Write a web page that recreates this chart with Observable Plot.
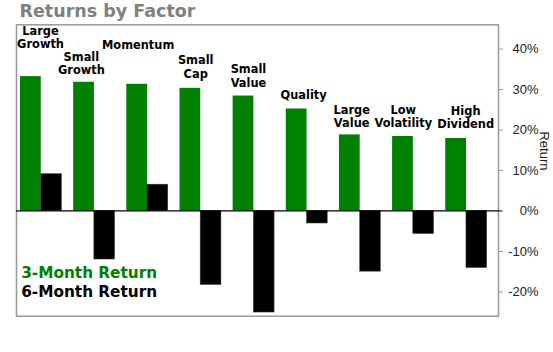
<!DOCTYPE html>
<html>
<head>
<meta charset="utf-8">
<script src="https://cdn.jsdelivr.net/npm/d3@7"></script>
<script src="https://cdn.jsdelivr.net/npm/@observablehq/plot@0.6"></script>
<style>
  html, body { margin: 0; padding: 0; background: #fff; }
  #chart { width: 553px; height: 352px; }
</style>
</head>
<body>
<div id="chart"></div>
<script>
const factors = ["Large Growth", "Small Growth", "Momentum", "Small Cap", "Small Value", "Quality", "Large Value", "Low Volatility", "High Dividend"];
const factorLabels = ["Large\nGrowth", "Small\nGrowth", "Momentum", "Small\nCap", "Small\nValue", "Quality", "Large\nValue", "Low\nVolatility", "High\nDividend"];
const return3m = [33.2, 31.8, 31.3, 30.3, 28.4, 25.2, 18.8, 18.4, 17.9];
const return6m = [9.1, -12.0, 6.5, -18.3, -25.1, -3.1, -15.0, -5.7, -14.1];
const yTicks = [-20, -10, 0, 10, 20, 30, 40];
const seriesNames = ["3-Month Return", "6-Month Return"];
const seriesColors = ["#008000", "#000000"];

const rows3 = factors.map((f, i) => ({factor: f, value: return3m[i], label: factorLabels[i]}));
const rows6 = factors.map((f, i) => ({factor: f, value: return6m[i]}));

// hand-tuned label nudges (pixels) to mimic the reference layout
const nudge = {
  "Large Growth": [-0.7, -19], "Small Growth": [-13, 1], "Momentum": [-9.4, -25.5],
  "Small Cap": [-5, -1.5], "Small Value": [-5.4, 0], "Quality": [-3.4, -0.7],
  "Large Value": [-8.5, 1.3], "Low Volatility": [-10, 0], "High Dividend": [-0.8, -1]
};

const half = 20.7;
const labelFont = "DejaVu Sans, Verdana, sans-serif";

const marks = [
  Plot.frame({stroke: "#999", strokeWidth: 1.5}),
  Plot.barY(rows3, {x: "factor", y: "value", fill: seriesColors[0], insetRight: half, insetLeft: 0}),
  Plot.barY(rows6, {x: "factor", y: "value", fill: seriesColors[1], stroke: "#444", strokeWidth: 0.5, insetLeft: half, insetRight: 0}),
  Plot.ruleY([0], {stroke: "#000", strokeWidth: 1.2, insetRight: -4}),
  Plot.axisY({anchor: "right", ticks: yTicks, tickFormat: d => d + "%", tickSize: 4, tickPadding: 36,
    textAnchor: "end", stroke: "#999", fill: "#222", fontSize: 13, label: null,
    fontFamily: "Liberation Sans, Arial, sans-serif"}),
  Plot.text(["Return"], {frameAnchor: "right", rotate: 90, dx: 45.5, fontSize: 13, fill: "#222",
    fontFamily: "Liberation Sans, Arial, sans-serif"}),
  ...rows3.map(r => Plot.text([r], {x: "factor", y: "value", text: "label", lineAnchor: "bottom",
    lineHeight: 1.17, fontSize: 11.4, fontWeight: "bold", fill: "#000", fontFamily: labelFont,
    dx: nudge[r.factor][0], dy: -9.3 + nudge[r.factor][1]})),
  Plot.text([seriesNames[0]], {frameAnchor: "bottom-left", textAnchor: "start", lineAnchor: "middle",
    dx: 4.7, dy: -43, fontSize: 15.3, fontWeight: "bold", fill: seriesColors[0], fontFamily: labelFont}),
  Plot.text([seriesNames[1]], {frameAnchor: "bottom-left", textAnchor: "start", lineAnchor: "middle",
    dx: 4.7, dy: -24, fontSize: 15.3, fontWeight: "bold", fill: seriesColors[1], fontFamily: labelFont}),
  Plot.text(["Returns by Factor"], {frameAnchor: "top-left", textAnchor: "start", lineAnchor: "middle",
    dx: 3, dy: -13, fontSize: 17.5, fontWeight: "bold", fill: "#808080", fontFamily: labelFont})
];

const chart = Plot.plot({
  width: 553,
  height: 352,
  marginTop: 24.3,
  marginBottom: 36.3,
  marginLeft: 16,
  marginRight: 55,
  style: {background: "#fff", overflow: "visible"},
  x: {domain: factors, range: [20, 486.7], paddingInner: 0.22, paddingOuter: 0, round: false, axis: null},
  y: {domain: [-26, 46], axis: null},
  marks
});
document.getElementById("chart").appendChild(chart);
</script>
</body>
</html>
